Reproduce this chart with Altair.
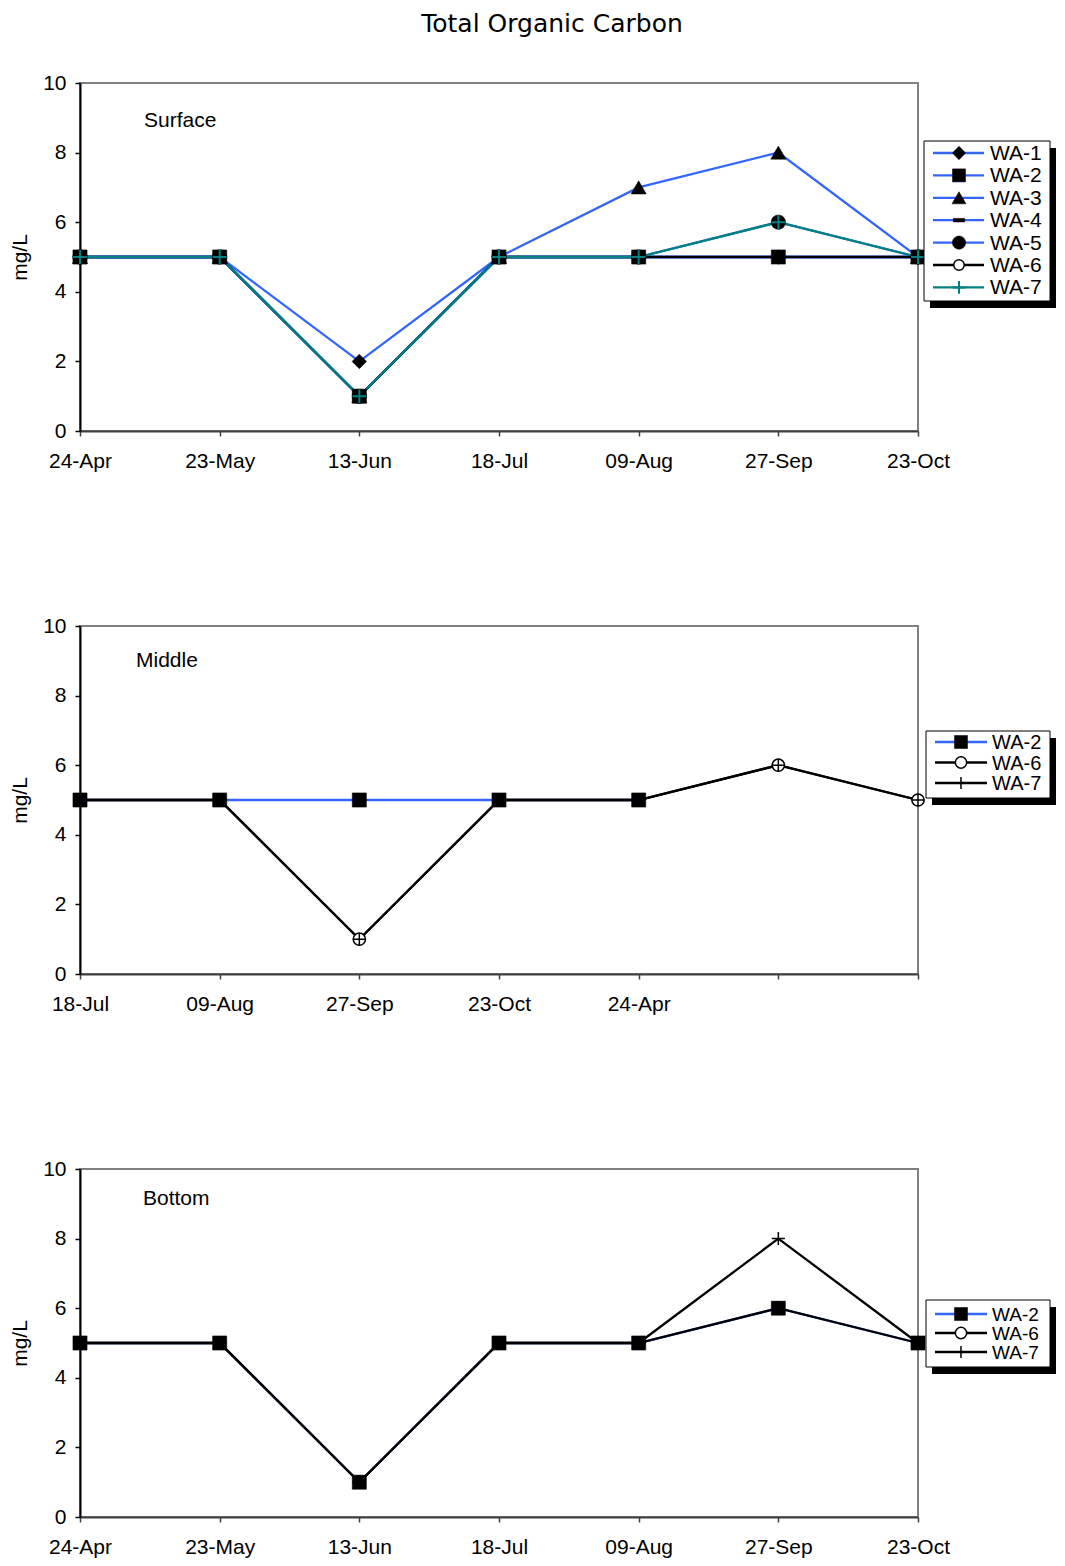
import json
import altair as alt
import pandas as pd

FONT = "Liberation Sans"
TITLE_FONT = "DejaVu Sans"
BLUE = "#3366FF"
BLACK = "#000000"
TEAL = "#008080"

# ---------------- data ----------------
surface_dates = ["24-Apr", "23-May", "13-Jun", "18-Jul", "09-Aug", "27-Sep", "23-Oct"]
middle_dates = ["18-Jul", "09-Aug", "27-Sep", "23-Oct", "24-Apr", "", ""]
bottom_dates = ["24-Apr", "23-May", "13-Jun", "18-Jul", "09-Aug", "27-Sep", "23-Oct"]

surface_wa1 = [5, 5, 2, 5, 5, 5, 5]
surface_wa2 = [5, 5, 1, 5, 5, 5, 5]
surface_wa3 = [5, 5, 1, 5, 7, 8, 5]
surface_wa4 = [5, 5, 1, 5, 5, 5, 5]
surface_wa5 = [5, 5, 1, 5, 5, 6, 5]
surface_wa6 = [5, 5, 1, 5, 5, 5, 5]
surface_wa7 = [5, 5, 1, 5, 5, 6, 5]

middle_wa2 = [5, 5, 5, 5, 5, None, None]
middle_wa6 = [5, 5, 1, 5, 5, 6, 5]
middle_wa7 = [5, 5, 1, 5, 5, 6, 5]

bottom_wa2 = [5, 5, 1, 5, 5, 6, 5]
bottom_wa6 = [5, 5, 1, 5, 5, 6, 5]
bottom_wa7 = [5, 5, 1, 5, 5, 8, 5]

# ---------------- styles ----------------
PLUS = "M-1,0H1M0,-1V1"
DASH = "M-1,-0.32H1V0.32H-1Z"


def style(line, shape, fill, stroke, sw, size):
    return dict(line=line, shape=shape, fill=fill, stroke=stroke, sw=sw, size=size)


surface_styles = {
    "WA-1": style(BLUE, "diamond", BLACK, BLACK, 0.5, 210),
    "WA-2": style(BLUE, "square", BLACK, BLACK, 0.5, 200),
    "WA-3": style(BLUE, "triangle-up", BLACK, BLACK, 0.5, 230),
    "WA-4": style(BLUE, DASH, BLACK, BLACK, 0.5, 150),
    "WA-5": style(BLUE, "circle", BLACK, BLACK, 0.5, 210),
    "WA-6": style(BLACK, "circle", "white", BLACK, 1.5, 130),
    "WA-7": style(TEAL, PLUS, None, TEAL, 2, 190),
}
mb_styles = {
    "WA-2": style(BLUE, "square", BLACK, BLACK, 0.5, 200),
    "WA-6": style(BLACK, "circle", "white", BLACK, 1.5, 150),
    "WA-7": style(BLACK, PLUS, None, BLACK, 1.5, 170),
}

W, H = 838, 348
FS = 21
LSHIFT = -8  # legend horizontal nudge to keep page within the window


def point_kw(st):
    kw = dict(shape=st["shape"], size=st["size"], opacity=1, stroke=st["stroke"],
              strokeWidth=st["sw"])
    if st["fill"] is None:
        kw["filled"] = False
    else:
        kw["filled"] = True
        kw["fill"] = st["fill"]
    return kw


def panel(dates, series, styles, label, label_xy, legend, title=None):
    X = alt.X(
        "i:Q",
        scale=alt.Scale(domain=[0, len(dates) - 1], nice=False, zero=False),
        axis=alt.Axis(
            values=list(range(len(dates))),
            labelExpr=f"{json.dumps(dates)}[datum.value]",
            title=None, grid=False, tickSize=5, labelPadding=14,
            labelFont=FONT, labelFontSize=FS, labelColor="black",
            labelFlush=False, labelOverlap=False,
            domainColor="#404040", domainWidth=2, tickColor="#404040", tickWidth=1.5,
        ),
    )
    Y = alt.Y(
        "value:Q",
        scale=alt.Scale(domain=[0, 10], nice=False),
        axis=alt.Axis(
            values=[0, 2, 4, 6, 8, 10], title="mg/L", grid=False,
            tickSize=5, labelPadding=9, labelFont=FONT, labelFontSize=FS,
            labelColor="black", labelFlush=False,
            titleFont=FONT, titleFontSize=21, titleFontWeight="normal",
            titleColor="black", titleX=-60, titleY=H / 2, titleBaseline="middle",
            domainColor="black", domainWidth=2, tickColor="black", tickWidth=1.5,
        ),
    )
    frames = {}
    for name, vals in series:
        rows = [{"i": i, "value": v, "series": name} for i, v in enumerate(vals) if v is not None]
        frames[name] = pd.DataFrame(rows)

    layers = []
    for name, _ in series:
        st = styles[name]
        layers.append(
            alt.Chart(frames[name]).mark_line(color=st["line"], strokeWidth=2.3)
            .encode(x=X, y=Y)
        )
    names = [n for n, _ in series]
    order = [n for n in names if styles[n]["fill"] == "white"] + \
            [n for n in names if styles[n]["fill"] == BLACK] + \
            [n for n in names if styles[n]["fill"] is None]
    for name in order:
        layers.append(alt.Chart(frames[name]).mark_point(**point_kw(styles[name])).encode(x=X, y=Y))

    dummy = pd.DataFrame({"a": [0]})
    layers.append(
        alt.Chart(dummy).mark_text(text=label, font=FONT, fontSize=FS, align="left",
                                   baseline="middle", color="black")
        .encode(x=alt.value(label_xy[0]), y=alt.value(label_xy[1]))
    )
    if title:
        layers.append(
            alt.Chart(dummy).mark_text(text=title, font=TITLE_FONT, fontSize=25, align="center",
                                       baseline="top", color="black")
            .encode(x=alt.value(472), y=alt.value(-71))
        )
    bx0, bx1, by0, by1 = legend["box"]
    bx0 += LSHIFT
    bx1 += LSHIFT
    layers.append(
        alt.Chart(dummy).mark_rect(color="black", opacity=1)
        .encode(x=alt.value(bx0 + 6), x2=alt.value(bx1 + 6), y=alt.value(by0 + 7), y2=alt.value(by1 + 7))
    )
    layers.append(
        alt.Chart(dummy).mark_rect(fill="white", stroke="black", strokeWidth=1, opacity=1)
        .encode(x=alt.value(bx0), x2=alt.value(bx1), y=alt.value(by0), y2=alt.value(by1))
    )
    lx0, lx1, mx, tx = [v + LSHIFT for v in legend["x"]]
    y0, step = legend["rows"]
    for k, name in enumerate(names):
        st = styles[name]
        yy = y0 + k * step
        layers.append(
            alt.Chart(dummy).mark_rule(color=st["line"], strokeWidth=2.3)
            .encode(x=alt.value(lx0), x2=alt.value(lx1), y=alt.value(yy))
        )
        lst = dict(st)
        lst["size"] = st["size"] * 0.85
        layers.append(
            alt.Chart(dummy).mark_point(**point_kw(lst)).encode(x=alt.value(mx), y=alt.value(yy))
        )
        layers.append(
            alt.Chart(dummy).mark_text(text=name, font=FONT, fontSize=legend["fs"], align="left",
                                       baseline="middle", color="black")
            .encode(x=alt.value(tx), y=alt.value(yy + 1))
        )
    return alt.layer(*layers).properties(width=W, height=H)


surface = panel(
    surface_dates,
    [("WA-1", surface_wa1), ("WA-2", surface_wa2), ("WA-3", surface_wa3), ("WA-4", surface_wa4),
     ("WA-5", surface_wa5), ("WA-6", surface_wa6), ("WA-7", surface_wa7)],
    surface_styles, "Surface", (64, 38),
    dict(box=(852, 978, 58, 218), x=(861, 912, 887, 918), rows=(70, 22.4), fs=21),
    title="Total Organic Carbon",
)
middle = panel(
    middle_dates,
    [("WA-2", middle_wa2), ("WA-6", middle_wa6), ("WA-7", middle_wa7)],
    mb_styles, "Middle", (56, 35),
    dict(box=(854, 978, 105, 172), x=(863, 915, 889, 920), rows=(116, 20.5), fs=20),
)
bottom = panel(
    bottom_dates,
    [("WA-2", bottom_wa2), ("WA-6", bottom_wa6), ("WA-7", bottom_wa7)],
    mb_styles, "Bottom", (63, 30),
    dict(box=(854, 978, 131, 198), x=(863, 915, 889, 920), rows=(145, 19), fs=19),
)

chart = alt.vconcat(surface, middle, bottom, spacing=195, bounds="flush").properties(
    padding={"left": 0, "top": 3, "right": 0, "bottom": 0}
).configure_view(stroke="#808080", strokeWidth=2)

chart.save("out.html", embed_options={"renderer": "svg", "actions": False})
